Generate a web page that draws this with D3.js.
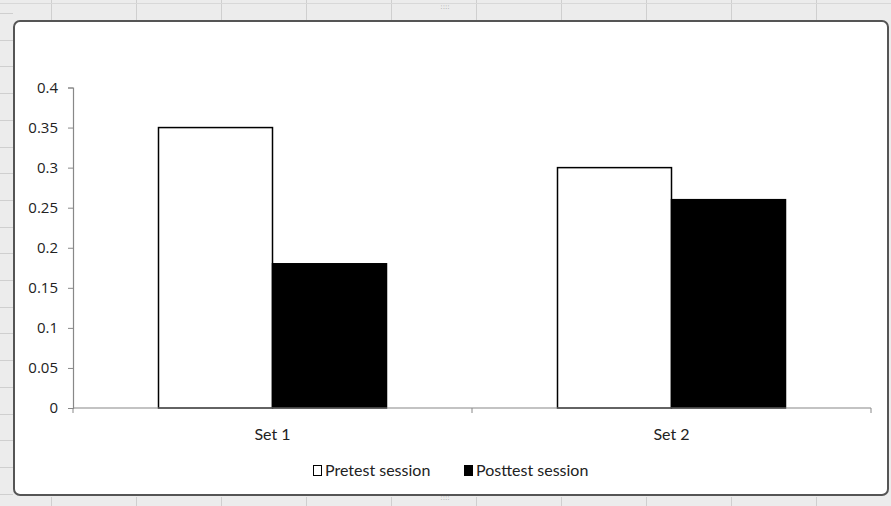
<!DOCTYPE html>
<html><head><meta charset="utf-8">
<script src="https://cdn.jsdelivr.net/npm/d3@7"></script>
<style>html,body{margin:0;padding:0;background:#e9e9e9;}svg{display:block;}</style>
</head><body>
<svg id="c" width="891" height="506"></svg>
<script>
const categories = ["Set 1", "Set 2"];
const seriesNames = ["Pretest session", "Posttest session"];
const pretest = [0.35, 0.30];
const posttest = [0.18, 0.26];
const yTicks = [0, 0.05, 0.1, 0.15, 0.2, 0.25, 0.3, 0.35, 0.4];
const yTickLabels = ["0", "0.05", "0.1", "0.15", "0.2", "0.25", "0.3", "0.35", "0.4"];

const svg = d3.select("#c");
const W = 891, H = 506;

// spreadsheet backdrop
svg.append("rect").attr("width", W).attr("height", H).attr("fill", "#ececec");
const bg = svg.append("g").attr("stroke", "#cfcfcf").attr("stroke-width", 1);
d3.range(51, W, 85).forEach(x => {
  bg.append("line").attr("x1", x + .5).attr("x2", x + .5).attr("y1", 0).attr("y2", 20);
  bg.append("line").attr("x1", x + .5).attr("x2", x + .5).attr("y1", 497).attr("y2", H);
});
d3.range(13, H, 26.7).forEach(y => {
  bg.append("line").attr("x1", 0).attr("x2", 13).attr("y1", Math.round(y) + .5).attr("y2", Math.round(y) + .5);
});
bg.append("line").attr("x1", 0).attr("x2", W).attr("y1", 3.5).attr("y2", 3.5).attr("stroke", "#d8d8d8");

// chart frame
svg.append("rect").attr("x", 14).attr("y", 21).attr("width", 874).attr("height", 474)
  .attr("rx", 6).attr("fill", "#fff").attr("stroke", "#555").attr("stroke-width", 2);
[[445, 9], [445, 500]].forEach(([x, y]) => {
  svg.append("text").attr("x", x).attr("y", y).attr("text-anchor", "middle")
    .attr("font-family", "DejaVu Sans").attr("font-size", 7).attr("fill", "#999").text("::::");
});

const plotL = 73, plotR = 871, plotT = 87.5, plotB = 408;
const y = d3.scaleLinear().domain([0, 0.4]).range([plotB, plotT]);
const x0 = d3.scaleBand().domain(categories).range([plotL, plotR]).paddingInner(0).paddingOuter(0);
const x1 = d3.scaleBand().domain(seriesNames).range([0, x0.bandwidth()]).paddingInner(0).paddingOuter(0.75);

// bars
const g = svg.append("g");
categories.forEach((c, i) => {
  const vals = [pretest[i], posttest[i]];
  seriesNames.forEach((s, j) => {
    g.append("rect")
      .attr("x", x0(c) + x1(s))
      .attr("y", y(vals[j]))
      .attr("width", x1.bandwidth())
      .attr("height", y(0) - y(vals[j]))
      .attr("fill", j === 0 ? "#fff" : "#000")
      .attr("stroke", "#000").attr("stroke-width", 1.5);
  });
});

// y axis
const yAxis = d3.axisLeft(y).tickValues(yTicks).tickFormat((d, i) => yTickLabels[i]).tickSize(5).tickPadding(10);
const ya = svg.append("g").attr("transform", `translate(${plotL},0)`).call(yAxis);
ya.select(".domain").attr("stroke", "#888").attr("stroke-width", 1.2);
ya.selectAll(".tick line").attr("stroke", "#888");
ya.selectAll(".tick text").attr("font-family", "Open Sans").attr("font-size", 15).attr("fill", "#222");

// x axis
const xa = svg.append("g").attr("transform", `translate(0,${plotB})`);
xa.append("line").attr("x1", plotL).attr("x2", plotR).attr("stroke", "#888").attr("stroke-width", 1.2);
[plotL, plotL + x0.bandwidth(), plotR].forEach(t => {
  xa.append("line").attr("x1", t).attr("x2", t).attr("y1", 0).attr("y2", 5).attr("stroke", "#888");
});
categories.forEach(c => {
  xa.append("text").attr("x", x0(c) + x0.bandwidth() / 2).attr("y", 32)
    .attr("text-anchor", "middle").attr("font-family", "Lato").attr("font-size", 16).attr("fill", "#222").text(c);
});

// legend
const legendX = [313, 464];
seriesNames.forEach((s, j) => {
  const lg = svg.append("g").attr("transform", `translate(${legendX[j]},465)`);
  lg.append("rect").attr("x", 0.5).attr("y", 0.5).attr("width", 8).attr("height", 10)
    .attr("fill", j === 0 ? "#fff" : "#000").attr("stroke", "#000").attr("stroke-width", 1);
  lg.append("text").attr("x", 12).attr("y", 11).attr("font-family", "Lato").attr("font-size", 16)
    .attr("fill", "#222").text(s);
});
</script>
</body></html>
